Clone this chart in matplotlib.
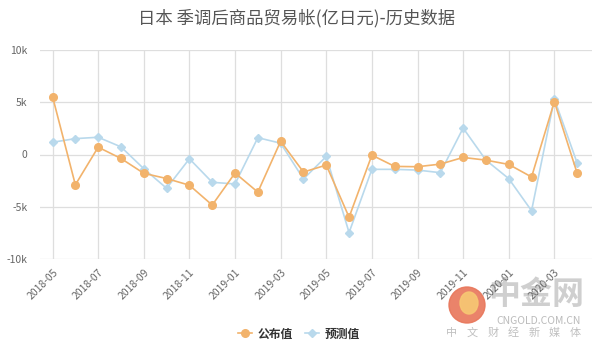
import matplotlib.pyplot as plt
from matplotlib.patches import Ellipse
import numpy as np

plt.rcParams['font.family'] = ['Noto Sans CJK SC', 'DejaVu Sans']

# monthly data, 2018-05 .. 2020-04
months = ['2018-05', '2018-06', '2018-07', '2018-08', '2018-09', '2018-10',
          '2018-11', '2018-12', '2019-01', '2019-02', '2019-03', '2019-04',
          '2019-05', '2019-06', '2019-07', '2019-08', '2019-09', '2019-10',
          '2019-11', '2019-12', '2020-01', '2020-02', '2020-03', '2020-04']
actual = [5540, -2900, 700, -380, -1800, -2300, -2940, -4840, -1770, -3600,
          1270, -1680, -1010, -6000, -60, -1140, -1170, -920, -280, -540,
          -950, -2150, 5060, -1800]
forecast = [1170, 1520, 1650, 730, -1360, -3230, -410, -2660, -2820, 1610,
            1080, -2340, -190, -7470, -1420, -1420, -1490, -1740, 2530, -540,
            -2310, -5380, 5320, -820]
yticks = [-10000, -5000, 0, 5000, 10000]
ylabels = ['-10k', '-5k', '0', '5k', '10k']

orange = '#f2b36c'
blue = '#b9d9ec'
grid = '#dedede'
txt = '#666666'

W, H = 600, 351
fig = plt.figure(figsize=(W / 100, H / 100), dpi=100)
ax = fig.add_axes([40 / W, 1 - 259 / H, 552 / W, 209 / H])
ax.set_zorder(2)
ax.patch.set_alpha(0)

x = np.arange(len(months))
ax.plot(x, forecast, color=blue, lw=1.2, marker='D', ms=3.8, zorder=2,
        label='预测值')
ax.plot(x, actual, color=orange, lw=1.2, marker='o', ms=5.5, zorder=3,
        label='公布值')

ax.set_ylim(-10000, 10000)
ax.set_xlim(-0.55, len(months) - 0.35)
ax.set_yticks(yticks)
ax.set_yticklabels(ylabels)
ax.set_xticks(x[::2])
ax.set_xticklabels(months[::2], rotation=45, ha='right', rotation_mode='anchor')
ax.tick_params(axis='both', length=0, colors=txt, labelsize=7.5)
ax.tick_params(axis='x', pad=6)
ax.tick_params(axis='y', pad=9)
ax.grid(True, color=grid, lw=0.9)
ax.set_axisbelow(True)
for s in ax.spines.values():
    s.set_visible(False)

fig.text(297 / W, 1 - 18 / H, '日本 季调后商品贸易帐(亿日元)-历史数据',
         ha='center', va='center', fontsize=12.5, color='#555555')

h, l = ax.get_legend_handles_labels()
leg = fig.legend(h[::-1], l[::-1], loc='center', bbox_to_anchor=(299 / W, 1 - 334 / H),
                 ncol=2, frameon=False, fontsize=8.5, handlelength=1.2,
                 columnspacing=1.0, handletextpad=0.5)
for t in leg.get_texts():
    t.set_color('#333333')
    t.set_fontweight('bold')

# watermark (behind the axes and tick labels)
logo = Ellipse((467 / W, 1 - 305 / H), 36 / W, 36 / H, transform=fig.transFigure,
               color='#e8765a', alpha=0.9, zorder=0.5)
fig.patches.append(logo)
swirl = Ellipse((469 / W, 1 - 303 / H), 18 / W, 22 / H, transform=fig.transFigure,
                color='#f7c873', alpha=0.9, zorder=0.6)
fig.patches.append(swirl)
fig.text(536 / W, 1 - 295 / H, '中金网', ha='center', va='center',
         fontsize=23, color='#cfcfcf', fontweight='bold', zorder=0.5)
fig.text(539 / W, 1 - 321 / H, 'CNGOLD.COM.CN', ha='center', va='center',
         fontsize=7.5, color='#bbbbbb', zorder=0.5)
for i, ch in enumerate('中文财经新媒体'):
    fig.text((452 + i * 20.5) / W, 1 - 333 / H, ch, ha='center', va='center',
             fontsize=8, color='#c0c0c0', zorder=0.5)

fig.savefig('out.png', dpi=100)
